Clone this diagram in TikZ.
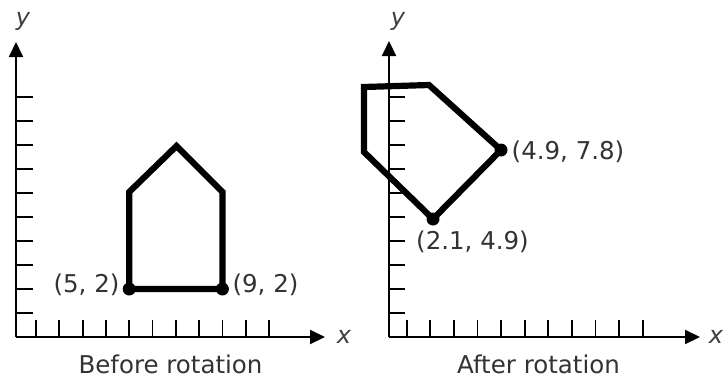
\documentclass[tikz,border=0pt]{standalone}
\usepackage{fontspec}
\setmainfont{DejaVu Sans}
\usetikzlibrary{arrows.meta}
\begin{document}
\begin{tikzpicture}[x=1pt,y=-1pt,
  axis/.style={line width=2pt, -{Triangle[length=15pt,width=14pt]}},
  tickmark/.style={line width=1.8pt},
  poly/.style={line width=6.2pt, line join=miter},
  dotpt/.style={circle, fill=black, inner sep=0pt, minimum size=13pt},
  lbl/.style={font=\fontsize{24.5}{28}\selectfont, text=black!80, inner sep=0pt},
  axlbl/.style={font=\fontsize{24}{28}\selectfont\itshape, text=black!75, inner sep=0pt}]
\useasboundingbox[fill=white] (0,0) rectangle (725,383);

% ---------- left panel ----------
\coordinate (O1) at (16,337);
\coordinate (Y1) at (16,42);
\coordinate (X1) at (325,337);
\foreach \k in {1,...,10} \draw[tickmark] (16,{337-24*\k}) -- ++(17,0);
\foreach \k in {1,...,11} \draw[tickmark] ({12.7+23.3*\k},337) -- ++(0,-17);
\draw[axis] (O1) -- (Y1);
\draw[axis] (O1) -- (X1);
\node[axlbl] (ly1) at (23,21) {y};
\node[axlbl] (lx1) at (344,337) {x};

\coordinate (A) at (129.2,289);
\coordinate (B) at (222.4,289);
\coordinate (C) at (222.4,192);
\coordinate (D) at (176.5,146);
\coordinate (E) at (129.2,192);
\draw[poly] (A) -- (B) -- (C) -- (D) -- (E) -- cycle;
\node[dotpt] (pA) at (A) {};
\node[dotpt] (pB) at (B) {};
\node[lbl] (tA) at (86.5,285) {(5, 2)};
\node[lbl] (tB) at (265.5,285) {(9, 2)};
\node[lbl, anchor=base] (cap1) at (170.5,373) {Before rotation};

% ---------- right panel ----------
\coordinate (O2) at (389,337);
\coordinate (Y2) at (389,41);
\coordinate (X2) at (700,337);
\foreach \k in {1,...,10} \draw[tickmark] (389,{337-24*\k}) -- ++(16,0);
\foreach \k in {1,...,11} \draw[tickmark] ({383.1+23.6*\k},337) -- ++(0,-17);
\draw[axis] (O2) -- (Y2);
\draw[axis] (O2) -- (X2);
\node[axlbl] (ly2) at (398,21) {y};
\node[axlbl] (lx2) at (716,337) {x};

\coordinate (P) at (433,219);
\coordinate (Q) at (501,150);
\coordinate (R) at (429,85);
\coordinate (S) at (364,87);
\coordinate (T) at (364,152);
\draw[poly] (P) -- (Q) -- (R) -- (S) -- (T) -- cycle;
\node[dotpt] (pP) at (P) {};
\node[dotpt] (pQ) at (Q) {};
\node[lbl] (tQ) at (568,151.5) {(4.9, 7.8)};
\node[lbl] (tP) at (472.5,241.5) {(2.1, 4.9)};
\node[lbl, anchor=base] (cap2) at (538.5,373) {After rotation};
\end{tikzpicture}
\end{document}
